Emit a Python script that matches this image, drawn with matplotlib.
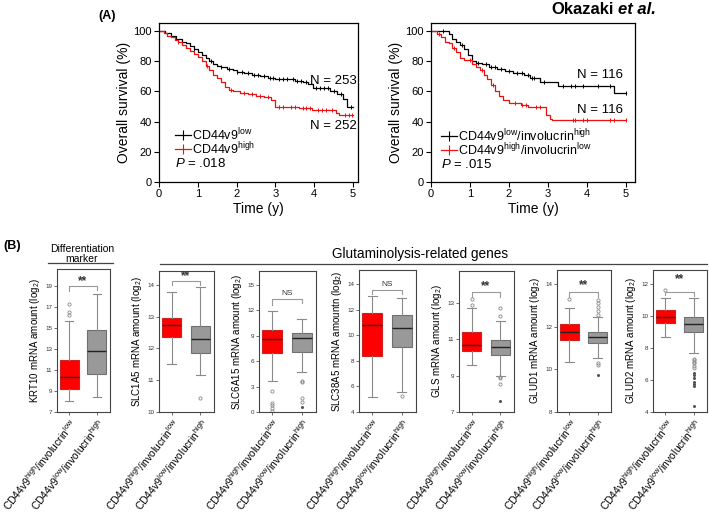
import numpy as np
import matplotlib
matplotlib.use('Agg')
import matplotlib.pyplot as plt
from matplotlib.lines import Line2D

plt.rcParams['font.family'] = ['Liberation Sans', 'DejaVu Sans']
plt.rcParams['mathtext.fontset'] = 'custom'
plt.rcParams['mathtext.rm'] = 'Liberation Sans'
plt.rcParams['mathtext.it'] = 'Liberation Sans:italic'
plt.rcParams['mathtext.bf'] = 'Liberation Sans:bold'

# ---- Kaplan-Meier curves (time in years, survival in %) ----
km1_low_t = [0, 0.15, 0.3, 0.45, 0.6, 0.7, 0.8, 0.9, 1.0, 1.1, 1.2, 1.3, 1.4, 1.5, 1.6, 1.75,
             1.9, 2.0, 2.2, 2.4, 2.6, 2.8, 3.0, 3.5, 3.7, 3.85, 3.97, 4.4, 4.6, 4.75, 4.85, 5.0]
km1_low_s = [100, 99, 97, 95, 93, 92, 90, 88, 86, 84, 82, 80, 78, 77, 76, 75,
             74, 73, 72, 71, 70, 69, 68, 67, 66, 65, 62, 60, 58, 55, 50, 50]
km1_high_t = [0, 0.12, 0.2, 0.3, 0.4, 0.5, 0.6, 0.7, 0.8, 0.9, 1.0, 1.1, 1.2, 1.3, 1.4, 1.5,
              1.6, 1.7, 1.8, 1.9, 2.1, 2.3, 2.5, 2.7, 2.9, 3.0, 3.3, 3.6, 3.95, 4.55, 4.65, 5.0]
km1_high_s = [100, 99, 97, 96, 94, 93, 91, 89, 87, 85, 83, 80, 77, 74, 71, 69,
              66, 63, 61, 60, 59, 58, 57, 56, 54, 50, 49.5, 49, 48, 46, 44.5, 44.5]
km1_low_cens = [0.9, 1.35, 1.6, 1.8, 2.0, 2.15, 2.3, 2.45, 2.55, 2.7, 2.85, 2.95, 3.1, 3.2,
                3.3, 3.45, 3.55, 3.65, 3.8, 4.05, 4.15, 4.25, 4.35, 4.5, 4.7, 4.95]
km1_high_cens = [0.5, 1.25, 1.85, 2.2, 2.4, 2.6, 2.8, 3.1, 3.2, 3.4, 3.5, 3.7, 3.8, 3.9,
                 4.1, 4.2, 4.3, 4.45, 4.8, 4.9, 4.98]

km2_low_t = [0, 0.45, 0.55, 0.65, 0.75, 0.85, 0.95, 1.05, 1.15, 1.3, 1.5, 1.7, 1.9, 2.1,
             2.4, 2.55, 2.8, 3.25, 4.7, 5.0]
km2_low_s = [100, 98, 95, 93, 91, 88, 84, 80, 79, 78, 76, 75, 73.5, 72.5, 71, 69, 66.5, 63.5, 59, 59]
km2_high_t = [0, 0.15, 0.25, 0.35, 0.45, 0.55, 0.65, 0.75, 0.85, 1.05, 1.15, 1.25, 1.35, 1.45,
              1.55, 1.65, 1.75, 1.85, 2.0, 2.3, 2.5, 2.95, 3.05, 3.1, 5.0]
km2_high_s = [100, 98, 96, 93, 92, 89, 86, 82, 81, 78, 76, 74, 71, 68, 64, 60, 57, 54, 52,
              51, 49.5, 44.5, 42, 41, 41]
km2_low_cens = [0.3, 0.8, 1.2, 1.4, 1.55, 1.65, 1.8, 2.0, 2.2, 2.35, 2.5, 2.6, 2.65, 2.9,
                3.4, 3.6, 3.7, 3.9, 4.3, 4.6, 5.0]
km2_high_cens = [0.2, 0.6, 1.0, 1.3, 1.6, 2.15, 2.35, 2.45, 2.7, 2.8, 3.65, 3.7, 3.9, 4.0,
                 4.6, 4.7, 5.0]

# ---- box plot summaries: [whisker low, Q1, median, Q3, whisker high] ----
genes = ['KRT10', 'SLC1A5', 'SLC6A15', 'SLC38A5', 'GLS', 'GLUD1', 'GLUD2']
ylabels = ['KRT10 mRNA amount (log$_2$)', 'SLC1A5 mRNA amount (log$_2$)',
           'SLC6A15 mRNA amount (log$_2$)', 'SLC38A5 mRNA amountn (log$_2$)',
           'GLS mRNA amount (log$_2$)', 'GLUD1 mRNA amount (log$_2$)', 'GLUD2 mRNA amount (log$_2$)']
box_high = [[8.0, 9.2, 10.3, 11.9, 15.7], [11.52, 12.37, 12.72, 12.96, 13.78],
            [3.7, 6.9, 8.6, 9.7, 11.9], [5.15, 8.35, 10.8, 11.75, 13.1],
            [9.6, 10.35, 10.7, 11.4, 12.7], [10.35, 11.4, 11.75, 12.15, 12.9],
            [8.7, 9.55, 9.95, 10.4, 11.15]]
box_low = [[8.4, 10.6, 12.8, 14.8, 18.2], [11.17, 11.85, 12.28, 12.70, 13.93],
           [4.7, 7.1, 8.7, 9.25, 11.0], [5.55, 9.1, 10.6, 11.6, 12.95],
           [9.0, 10.15, 10.55, 10.95, 12.0], [10.55, 11.25, 11.5, 11.75, 12.45],
           [7.7, 9.0, 9.5, 9.95, 11.15]]
out_high = [[16.2, 16.5, 17.3], [], [2.5, 1.1, 0.8, 0.5, 0.1], [], [12.9, 13.2], [13.3], [11.65]]
out_low = [[], [10.43], [3.6, 3.5, 1.7, 1.2], [5.25], [12.3, 12.7, 8.95, 8.85, 8.55],
           [12.55, 12.75, 12.95, 13.1, 13.25, 10.3, 10.2],
           [7.35, 7.25, 7.15, 7.05, 6.9, 6.75]]
far_low = [[], [], [0.6], [], [7.6], [9.75], [6.45, 6.35, 6.1, 5.9, 5.75, 5.6, 4.35]]
ylims = [(7, 20.6), (10, 14.43), (0, 16.6), (4, 15.1), (7, 14.76), (8, 14.67), (4, 12.9)]
yticks = [range(7, 20, 2), range(10, 15), range(0, 16, 3), range(4, 15, 2),
          range(7, 14, 2), range(8, 15, 2), range(4, 13, 2)]
sig_labels = ['**', '**', 'NS', 'NS', '**', '**', '**']
sig_bar = [19.0, 14.13, 13.3, 13.55, 13.6, 13.65, 11.54]
sig_drop_l = [18.5, 14.0, 12.6, 13.2, 13.33, 13.4, 11.35]
sig_drop_r = [18.6, 14.0, 12.8, 13.25, 13.33, 13.4, 11.3]
sig_text_y = [19.45, 14.27, 13.95, 13.95, 13.92, 13.98, 12.3]
xlabels = [r'CD44v9$^{\mathrm{high}}$/involucrin$^{\mathrm{low}}$',
           r'CD44v9$^{\mathrm{low}}$/involucrin$^{\mathrm{high}}$']

W, H = 709, 512
fig = plt.figure(figsize=(W / 100, H / 100), dpi=100)


def add_ax(l, t, r, b):
    return fig.add_axes([l / W, 1 - b / H, (r - l) / W, (b - t) / H])


def step_val(t, s, x):
    idx = np.searchsorted(t, x, side='right') - 1
    return np.array(s)[idx]


def km_panel(ax, curves):
    for t, s, cens, c in curves:
        ax.step(t, s, where='post', color=c, lw=0.9)
        ax.plot(cens, step_val(t, s, cens), ls='none', marker='|', ms=3.5, mew=0.7, color=c)
    ax.set_xlim(0, 5.13)
    ax.set_ylim(0, 105.3)
    ax.set_xticks(range(6))
    ax.set_yticks(range(0, 101, 20))
    ax.tick_params(labelsize=8, length=3.5, width=0.8, pad=1.5)
    for sp in ax.spines.values():
        sp.set_linewidth(0.9)
    ax.set_xlabel('Time (y)', fontsize=10, labelpad=2)
    ax.set_ylabel('Overall survival (%)', fontsize=10, labelpad=2)


def km_legend(ax, l, t, r, b, x0, rows, labels, colors, ptext):
    # rows: pixel y of each legend row; x0: pixel x of the handle start
    fx = lambda px: (px - l) / (r - l)
    fy = lambda py: 1 - (py - t) / (b - t)
    for py, lab, c in zip(rows[:2], labels, colors):
        ax.plot([fx(x0), fx(x0 + 16)], [fy(py)] * 2, color=c, lw=0.9, transform=ax.transAxes,
                clip_on=False)
        ax.plot([fx(x0 + 8)], [fy(py)], marker='|', ms=7, mew=0.8, color=c,
                transform=ax.transAxes, clip_on=False)
        ax.text(fx(x0 + 17), fy(py + 5), lab, transform=ax.transAxes, fontsize=9,
                va='baseline')
    ax.text(fx(x0), fy(rows[2] + 4), ptext, transform=ax.transAxes, fontsize=9.5, va='baseline')


ax1 = add_ax(159, 23, 358, 182)
km_panel(ax1, [(km1_low_t, km1_low_s, km1_low_cens, 'black'),
               (km1_high_t, km1_high_s, km1_high_cens, '#ee1111')])
km_legend(ax1, 159, 23, 358, 182, 175, [135, 149, 163],
          [r'CD44v9$^{\mathrm{low}}$', r'CD44v9$^{\mathrm{high}}$'], ['black', '#ee1111'],
          r'$P$ = .018')
ax1.text(5.1, 67, 'N = 253', ha='right', va='center', fontsize=9.5)
ax1.text(5.1, 37, 'N = 252', ha='right', va='center', fontsize=9.5)

ax2 = add_ax(431, 23, 635, 182)
km_panel(ax2, [(km2_low_t, km2_low_s, km2_low_cens, 'black'),
               (km2_high_t, km2_high_s, km2_high_cens, '#ee1111')])
ax2.set_xlim(0, 5.24)
km_legend(ax2, 431, 23, 635, 182, 441, [136, 150, 164],
          [r'CD44v9$^{\mathrm{low}}$/involucrin$^{\mathrm{high}}$',
           r'CD44v9$^{\mathrm{high}}$/involucrin$^{\mathrm{low}}$'], ['black', '#ee1111'],
          r'$P$ = .015')
ax2.text(4.93, 71, 'N = 116', ha='right', va='center', fontsize=9.5)
ax2.text(4.93, 47.5, 'N = 116', ha='right', va='center', fontsize=9.5)

fig.text(107 / W, 1 - 16 / H, '(A)', fontsize=9, fontweight='bold', ha='center', va='center')
fig.text(614 / W, 1 - 14 / H, 'Okazaki', fontsize=12, fontweight='bold', ha='right', va='baseline')
fig.text(618 / W, 1 - 14 / H, 'et al.', fontsize=12, fontweight='bold', fontstyle='italic',
         ha='left', va='baseline')

# ---- box plots ----
rects = [(57, 269, 110, 412), (159, 271, 214, 412), (259, 271, 316, 412), (359, 270, 416, 412),
         (459, 271, 514, 412), (557, 270, 611, 412), (653, 270, 707, 412)]
for i, g in enumerate(genes):
    ax = add_ax(*rects[i])
    stats = []
    for vals, outs in ((box_high[i], out_high[i]), (box_low[i], out_low[i])):
        stats.append(dict(whislo=vals[0], q1=vals[1], med=vals[2], q3=vals[3],
                          whishi=vals[4], fliers=outs))
    bp = ax.bxp(stats, positions=[1, 2], widths=0.68, patch_artist=True, capwidths=0.3,
                medianprops=dict(color='#222222', lw=1.0),
                whiskerprops=dict(color='#8a8a8a', lw=0.8),
                capprops=dict(color='#8a8a8a', lw=0.8),
                flierprops=dict(marker='o', ms=2.3, mfc='none', mec='#8a8a8a', mew=0.6))
    bp['boxes'][0].set(facecolor='#ff0000', edgecolor='#cc2222', lw=0.8)
    bp['boxes'][1].set(facecolor='#999999', edgecolor='#707070', lw=0.8)
    if far_low[i]:
        ax.plot([2] * len(far_low[i]), far_low[i], ls='none', marker='o', ms=1.2, color='#555555')
    # significance bracket
    ax.plot([1, 1, 2, 2], [sig_drop_l[i], sig_bar[i], sig_bar[i], sig_drop_r[i]],
            color='#999999', lw=0.8)
    if sig_labels[i] == '**':
        ax.text(1.5, sig_text_y[i], '**', ha='center', va='center', fontsize=8.5, fontweight='bold',
                color='#333333')
    else:
        ax.text(1.5, sig_text_y[i], 'NS', ha='center', va='center', fontsize=6, color='#333333')
    ax.set_xlim(0.56, 2.48)
    ax.set_ylim(*ylims[i])
    ax.set_yticks(list(yticks[i]))
    ax.set_xticks([1, 2])
    ax.set_xticklabels(xlabels, rotation=52, ha='right', rotation_mode='anchor', fontsize=7.5)
    ax.tick_params(axis='y', labelsize=4.5, length=2, width=0.6, pad=1.5, colors='#555555',
                   labelcolor='#333333')
    ax.tick_params(axis='x', length=2, width=0.6, pad=1.5, colors='#555555', labelcolor='black')
    for sp in ax.spines.values():
        sp.set_linewidth(0.8)
        sp.set_color('#444444')
    ax.set_ylabel(ylabels[i], fontsize=7, labelpad=2)

fig.text(12 / W, 1 - 246 / H, '(B)', fontsize=9, fontweight='bold', ha='center', va='center')
fig.text(82 / W, 1 - 254 / H, 'Differentiation\nmarker', fontsize=7.5, ha='center', va='center',
         linespacing=1.0)
fig.add_artist(Line2D([48 / W, 113 / W], [1 - 263 / H] * 2, color='#444444', lw=0.9))
fig.text(420 / W, 1 - 254 / H, 'Glutaminolysis-related genes', fontsize=9.8, ha='center',
         va='center')
fig.add_artist(Line2D([160 / W, 707 / W], [1 - 264 / H] * 2, color='#444444', lw=0.9))

fig.savefig('out.png', dpi=100)
